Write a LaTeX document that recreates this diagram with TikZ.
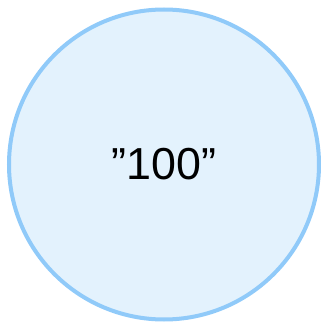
\documentclass[tikz,border=0pt]{standalone}
\usepackage{fontspec}
\setmainfont{Liberation Sans}
\usetikzlibrary{positioning}
\definecolor{cfill}{HTML}{E3F2FD}
\definecolor{cline}{HTML}{90CAF9}
\tikzset{
  every picture/.style={x=1bp, y=1bp},
  ball/.style={circle, draw=cline, fill=cfill, line width=4bp, minimum size=310bp, inner sep=0pt},
  value/.style={font=\fontsize{45}{54}\selectfont, text=black},
}
\begin{document}
\begin{tikzpicture}
  \useasboundingbox (0,0) rectangle (321,325);
  % the value as a circle
  \node[ball] (val) at (164,160.5) {};
  \node[value] (txt) at (val.center) {”100”};
\end{tikzpicture}
\end{document}
